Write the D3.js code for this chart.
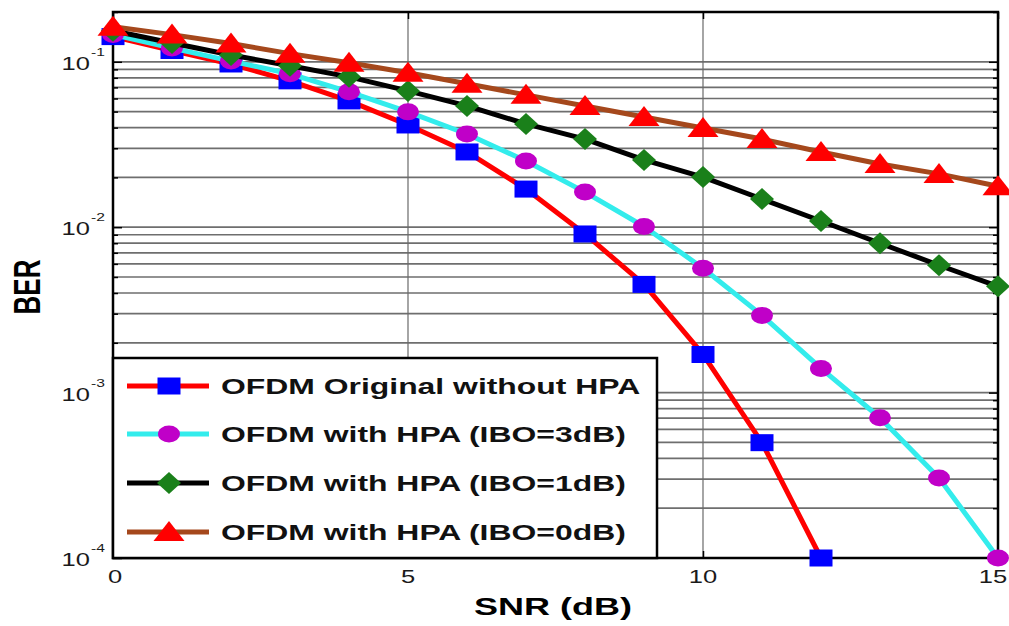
<!doctype html>
<html>
<head>
<meta charset="utf-8" />
<title>BER vs SNR – OFDM with HPA</title>
<style>
  html,body{margin:0;background:#fff}
  svg{display:block}
  .lbl{font-family:"Liberation Sans", Arial, sans-serif}
  .axis path{display:none}
  .axis line{stroke:#000;stroke-width:1.5}
</style>
</head>
<body>
<svg id="chart" width="1009" height="626"></svg>

<script src="https://cdn.jsdelivr.net/npm/d3@7"></script>
<script>
/* ───────── data ───────── */
const snr = [0, 1, 2, 3, 4, 5, 6, 7, 8, 9, 10, 11, 12, 13, 14, 15];

const berOriginal = [0.142, 0.117, 0.097, 0.0767, 0.058, 0.0415, 0.0285, 0.017,
                     0.0091, 0.00451, 0.0017, 0.000498, 0.0001];
const berIbo3     = [0.146, 0.121, 0.101, 0.0846, 0.0658, 0.0498, 0.0366, 0.0251,
                     0.0163, 0.0101, 0.00565, 0.00293, 0.0014, 0.000705, 0.000305, 0.0001];
const berIbo1     = [0.154, 0.130, 0.110, 0.0946, 0.0811, 0.0667, 0.0541, 0.0421,
                     0.0341, 0.0255, 0.0201, 0.0148, 0.0109, 0.0080, 0.00589, 0.00439];
const berIbo0     = [0.163, 0.146, 0.129, 0.112, 0.0986, 0.0858, 0.0736, 0.0631,
                     0.0541, 0.0464, 0.0398, 0.0341, 0.0285, 0.0241, 0.0210, 0.0177];

const seriesNames = ['OFDM Original without HPA', 'OFDM with HPA (IBO=3dB)',
                     'OFDM with HPA (IBO=1dB)', 'OFDM with HPA (IBO=0dB)'];
const xTicks = [0, 5, 10, 15];
const yDecades = [1e-4, 1e-3, 1e-2, 1e-1];
const yTickExp = ['-4', '-3', '-2', '-1'];

/* ───────── layout ───────── */
const svg = d3.select('#chart');
const L = 113, R = 998, T = 12, B = 558;
const SX = 1.42;                       // picture is stretched horizontally

const x = d3.scaleLinear().domain([0, 15]).range([L, R]);
const y = d3.scaleLog().domain([1e-4, 0.2]).range([B, T]);

/* grid */
const grid = svg.append('g');
grid.selectAll('line.h')
  .data(y.ticks().filter(v => v < 0.19))
  .join('line')
  .attr('x1', L).attr('x2', R)
  .attr('y1', d => y(d)).attr('y2', d => y(d))
  .attr('stroke', '#6e6e6e').attr('stroke-width', 1.7);
grid.selectAll('line.v')
  .data(xTicks.slice(1, -1))
  .join('line')
  .attr('x1', d => x(d)).attr('x2', d => x(d))
  .attr('y1', T).attr('y2', B)
  .attr('stroke', '#6a6a6a').attr('stroke-width', 1.2);

/* ticks (inward, both sides) */
const yMinor = y.ticks().filter(v => !yDecades.includes(v));
svg.append('g').attr('class', 'axis').attr('transform', `translate(${L},0)`)
  .call(d3.axisLeft(y).tickValues(yDecades).tickSize(-9).tickFormat(''));
svg.append('g').attr('class', 'axis').attr('transform', `translate(${L},0)`)
  .call(d3.axisLeft(y).tickValues(yMinor).tickSize(-5).tickFormat(''));
svg.append('g').attr('class', 'axis').attr('transform', `translate(${R},0)`)
  .call(d3.axisRight(y).tickValues(yDecades).tickSize(-9).tickFormat(''));
svg.append('g').attr('class', 'axis').attr('transform', `translate(${R},0)`)
  .call(d3.axisRight(y).tickValues(yMinor).tickSize(-5).tickFormat(''));
svg.append('g').attr('class', 'axis').attr('transform', `translate(0,${B})`)
  .call(d3.axisBottom(x).tickValues(xTicks).tickSize(-7).tickFormat(''));
svg.append('g').attr('class', 'axis').attr('transform', `translate(0,${T})`)
  .call(d3.axisTop(x).tickValues(xTicks).tickSize(-7).tickFormat(''));

/* frame */
svg.append('rect')
  .attr('x', L).attr('y', T).attr('width', R - L).attr('height', B - T)
  .attr('fill', 'none').attr('stroke', '#000').attr('stroke-width', 2.5);

/* markers */
const shapes = {
  square:   `M-11.5,-8.5H11.5V8.5H-11.5Z`,
  circle:   `M-11,0A11,8.5 0 1,0 11,0A11,8.5 0 1,0 -11,0Z`,
  diamond:  `M0,-11L12,0L0,11L-12,0Z`,
  triangle: `M0,-11L15.5,9L-15.5,9Z`
};

const series = [
  {name: seriesNames[0], data: berOriginal, line: '#ff0000', fill: '#0000ff', shape: 'square'},
  {name: seriesNames[1], data: berIbo3,     line: '#33ecec', fill: '#c000c8', shape: 'circle'},
  {name: seriesNames[2], data: berIbo1,     line: '#000000', fill: '#1a801a', shape: 'diamond'},
  {name: seriesNames[3], data: berIbo0,     line: '#a5481c', fill: '#ff0000', shape: 'triangle'}
];

const lineGen = d3.line().x((d, i) => x(snr[i])).y(d => y(d));

series.forEach(s => {
  const g = svg.append('g');
  g.append('path')
    .attr('d', lineGen(s.data))
    .attr('fill', 'none').attr('stroke', s.line)
    .attr('stroke-width', 5).attr('stroke-linejoin', 'round');
  g.selectAll('path.m')
    .data(s.data)
    .join('path')
    .attr('class', 'm')
    .attr('d', shapes[s.shape])
    .attr('transform', (d, i) => `translate(${x(snr[i])},${y(d)})`)
    .attr('fill', s.fill);
});

/* tick labels */
yDecades.forEach((v, i) => {
  svg.append('text').attr('class', 'lbl')
    .attr('transform', `translate(90,${y(v) + 8}) scale(${SX},1)`)
    .attr('text-anchor', 'end').attr('font-size', 18).attr('fill', '#1a1a1a')
    .text('10');
  svg.append('text').attr('class', 'lbl')
    .attr('transform', `translate(91,${y(v) - 6}) scale(${SX},1)`)
    .attr('font-size', 11).attr('fill', '#1a1a1a')
    .text('-' + yTickExp[i].slice(1));
});
xTicks.forEach((v, i) => {
  const shift = i === 0 ? 2 : (i === xTicks.length - 1 ? -5 : 0);
  svg.append('text').attr('class', 'lbl')
    .attr('transform', `translate(${x(v) + shift},583) scale(${SX},1)`)
    .attr('text-anchor', 'middle').attr('font-size', 18).attr('fill', '#1a1a1a')
    .text(v);
});

/* axis titles */
svg.append('text').attr('class', 'lbl')
  .attr('transform', `translate(553,615) scale(1.5,1)`)
  .attr('text-anchor', 'middle').attr('font-size', 24).attr('font-weight', 'bold')
  .text('SNR (dB)');
svg.append('text').attr('class', 'lbl')
  .attr('transform', `translate(40,287) scale(1.4,1) rotate(-90)`)
  .attr('text-anchor', 'middle').attr('font-size', 26).attr('font-weight', 'bold')
  .text('BER');

/* legend */
const lg = svg.append('g');
lg.append('rect')
  .attr('x', L).attr('y', 358).attr('width', 657 - L).attr('height', B - 358)
  .attr('fill', '#fff').attr('stroke', '#000').attr('stroke-width', 2.5);
const rowY = [386, 434, 483, 532];
series.forEach((s, i) => {
  const ry = rowY[i];
  lg.append('line')
    .attr('x1', 127).attr('x2', 209).attr('y1', ry).attr('y2', ry)
    .attr('stroke', s.line).attr('stroke-width', 5);
  lg.append('path')
    .attr('d', shapes[s.shape])
    .attr('transform', `translate(169,${ry})`)
    .attr('fill', s.fill);
  lg.append('text').attr('class', 'lbl')
    .attr('transform', `translate(221,${ry + 8}) scale(1.45,1)`)
    .attr('font-size', 22).attr('font-weight', 'bold').attr('fill', '#111')
    .text(s.name);
});
</script>
</body>
</html>
